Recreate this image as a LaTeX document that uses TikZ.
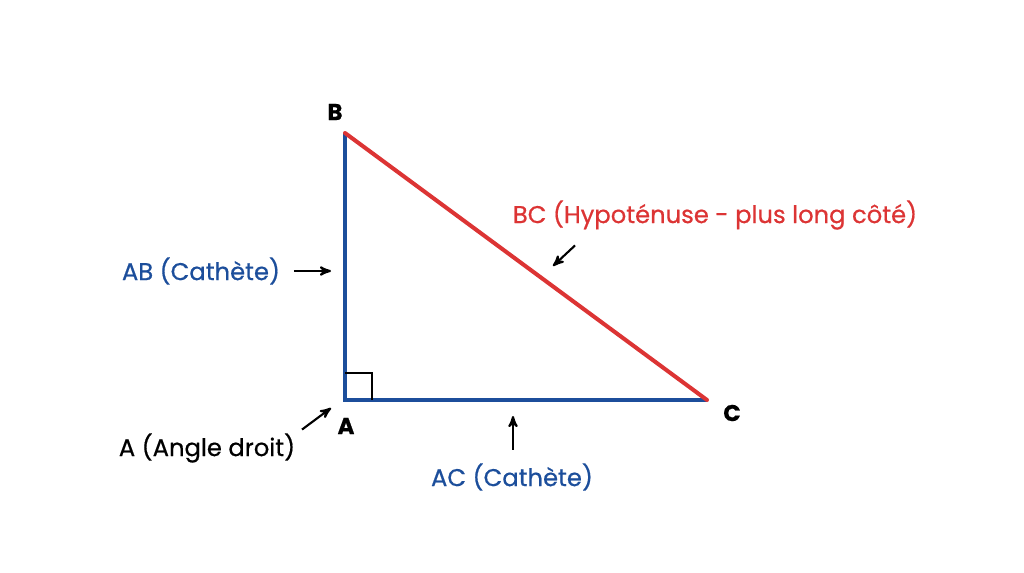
\documentclass[tikz,border=0pt]{standalone}
\usepackage{fontspec}
\setmainfont{Poppins}[FakeBold=0.6]
\usetikzlibrary{arrows,positioning,calc}
\definecolor{sideblue}{RGB}{28,78,155}
\definecolor{hypred}{RGB}{220,52,52}

\begin{document}
\begin{tikzpicture}[
    x=0.02cm, y=-0.02cm,
    inner sep=2pt,
    side/.style={draw=sideblue,line width=2.3pt},
    hyp/.style={draw=hypred,line width=2.3pt},
    vlabel/.style={font=\fontsize{13.8}{16}\selectfont},
    vname/.style={font=\fontsize{13}{15}\selectfont\bfseries},
    blab/.style={vlabel,text=sideblue},
    rlab/.style={vlabel,text=hypred},
    ptr/.style={->,>=stealth',line width=1.2pt},
    ]

    %frame
    \useasboundingbox (0,0) rectangle (1024,572);

    %corners
    \coordinate (A) at (345,400);
    \coordinate (B) at (345,133);
    \coordinate (C) at (707,400);

    %sides
    \draw[side] (B) -- (A) -- (C);
    \draw[hyp,line cap=round] (B) -- (C);
    \draw[thick] ($(A)+(0,-27)$) -- ($(A)+(27,-27)$) -- ($(A)+(27,0)$);

    %vertex names
    \node[vname] (nB) at (335,112) {B};
    \node[vname] (nA) at (346,426) {A};
    \node[vname] (nC) at (732,413) {C};

    %labels
    \node[blab] (lAB) at (201,271) {AB (Cathète)};
    \node[rlab] (lBC) at (715,215) {BC (Hypoténuse - plus long côté)};
    \node[vlabel] (lA) at (207,448) {A (Angle droit)};
    \node[blab] (lAC) at (512,477) {AC (Cathète)};

    %pointers
    \coordinate (pAB) at (331,271);
    \coordinate (pBC) at (553,266);
    \coordinate (pA) at (331,408);
    \coordinate (pAC) at (513,416);
    \draw[ptr] ($(lAB.east)+(10,0)$) -- (pAB);
    \draw[ptr] ($(lBC.south west)+(66,12)$) -- (pBC);
    \draw[ptr] ($(lA.north east)+(3,0)$) -- (pA);
    \draw[ptr] ($(lAC.north)+(1,-10)$) -- (pAC);

\end{tikzpicture}
\end{document}
